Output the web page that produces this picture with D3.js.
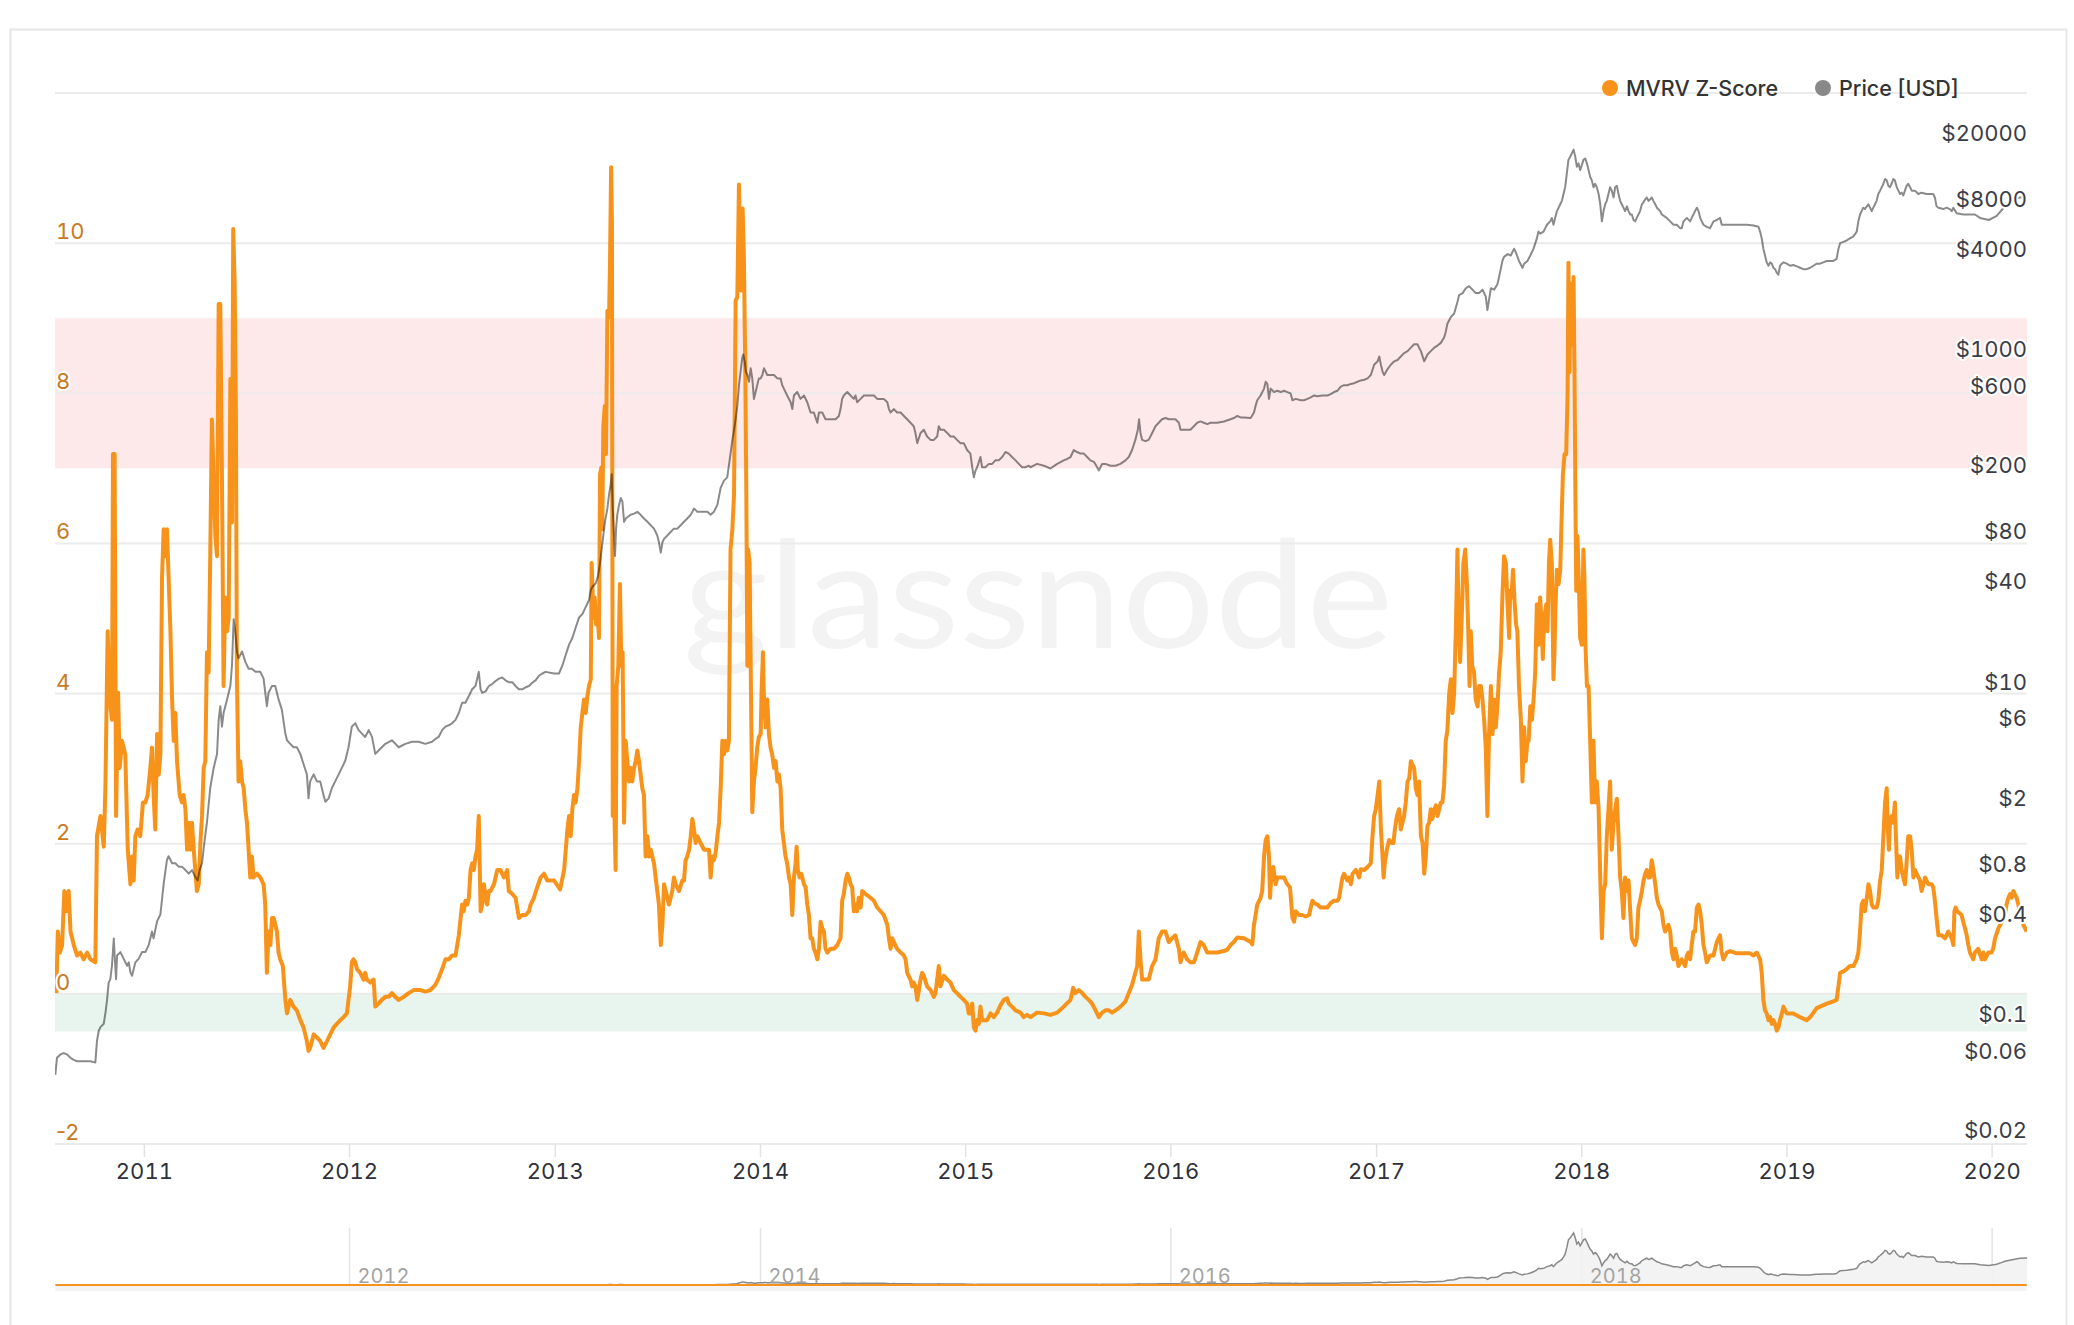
<!DOCTYPE html>
<html><head><meta charset="utf-8">
<script src="https://cdnjs.cloudflare.com/ajax/libs/d3/7.8.5/d3.min.js"></script>
<style>
html,body{margin:0;padding:0;background:#fff;}
svg{display:block;font-family:Inter,"Noto Sans",sans-serif;}
.num{font-feature-settings:"tnum" 1;font-variant-numeric:tabular-nums;}
</style>
</head><body>
<svg id="chart" width="2074" height="1325"></svg>
<script>
// ---------------- DATA (decimal years) ----------------
const zDates = [
2010.571,2010.578,2010.588,2010.599,2010.610,2010.620,2010.631,2010.640,2010.656,2010.672,2010.688,2010.704,2010.721,2010.737,2010.761,2010.769,2010.786,2010.802,2010.810,2010.821,2010.831,2010.842,2010.847,2010.855,2010.862,2010.872,2010.880,2010.891,2010.907,2010.919,2010.932,2010.940,2010.948,2010.956,2010.967,2010.980,2010.993,
2011.005,2011.016,2011.029,2011.037,2011.045,2011.053,2011.062,2011.070,2011.078,2011.086,2011.094,2011.102,2011.110,2011.118,2011.127,2011.135,2011.143,2011.151,2011.159,2011.172,2011.183,2011.191,2011.200,2011.208,2011.216,2011.224,2011.232,2011.243,2011.256,2011.265,2011.273,2011.281,2011.289,2011.297,2011.305,2011.313,2011.321,2011.329,2011.338,2011.346,2011.354,2011.362,2011.370,2011.378,2011.386,2011.394,2011.403,2011.411,2011.419,2011.427,2011.433,2011.440,2011.446,2011.451,2011.459,2011.467,2011.476,2011.484,2011.492,2011.500,2011.508,2011.516,2011.524,2011.532,2011.549,2011.565,2011.581,2011.589,2011.597,2011.605,2011.614,2011.622,2011.630,2011.638,2011.646,2011.654,2011.662,2011.675,2011.687,2011.695,2011.711,2011.727,2011.743,2011.760,2011.776,2011.792,2011.800,2011.808,2011.825,2011.841,2011.857,2011.873,2011.890,2011.906,2011.922,2011.938,2011.955,2011.971,2011.987,
2012.003,2012.011,2012.019,2012.028,2012.036,2012.052,2012.068,2012.076,2012.084,2012.101,2012.117,2012.125,2012.141,2012.157,2012.174,2012.190,2012.206,2012.222,2012.239,2012.263,2012.287,2012.312,2012.344,2012.368,2012.393,2012.417,2012.433,2012.450,2012.466,2012.482,2012.498,2012.515,2012.531,2012.547,2012.555,2012.563,2012.572,2012.580,2012.588,2012.596,2012.604,2012.612,2012.620,2012.628,2012.637,2012.645,2012.653,2012.661,2012.669,2012.677,2012.685,2012.702,2012.718,2012.734,2012.750,2012.766,2012.774,2012.791,2012.807,2012.823,2012.839,2012.856,2012.872,2012.880,2012.896,2012.912,2012.929,2012.945,2012.961,2012.994,
2013.023,2013.043,2013.059,2013.067,2013.075,2013.083,2013.091,2013.099,2013.108,2013.116,2013.124,2013.132,2013.140,2013.148,2013.156,2013.164,2013.173,2013.177,2013.186,2013.192,2013.199,2013.205,2013.213,2013.218,2013.224,2013.229,2013.234,2013.241,2013.247,2013.254,2013.262,2013.267,2013.272,2013.276,2013.280,2013.285,2013.289,2013.294,2013.299,2013.307,2013.315,2013.322,2013.328,2013.335,2013.343,2013.351,2013.359,2013.367,2013.375,2013.384,2013.392,2013.400,2013.408,2013.416,2013.424,2013.432,2013.440,2013.449,2013.457,2013.465,2013.481,2013.489,2013.497,2013.505,2013.514,2013.522,2013.530,2013.538,2013.546,2013.554,2013.562,2013.570,2013.578,2013.587,2013.603,2013.619,2013.627,2013.635,2013.643,2013.652,2013.660,2013.668,2013.676,2013.684,2013.692,2013.708,2013.725,2013.741,2013.749,2013.757,2013.765,2013.773,2013.781,2013.790,2013.798,2013.806,2013.814,2013.822,2013.830,2013.838,2013.846,2013.854,2013.863,2013.871,2013.879,2013.887,2013.895,2013.900,2013.906,2013.913,2013.919,2013.926,2013.931,2013.936,2013.940,2013.947,2013.952,2013.960,2013.968,2013.976,2013.984,2013.992,
2014.001,2014.005,2014.012,2014.017,2014.025,2014.033,2014.041,2014.049,2014.057,2014.066,2014.074,2014.082,2014.090,2014.098,2014.106,2014.114,2014.122,2014.130,2014.139,2014.147,2014.155,2014.163,2014.171,2014.176,2014.182,2014.191,2014.199,2014.212,2014.220,2014.228,2014.236,2014.244,2014.252,2014.260,2014.268,2014.277,2014.285,2014.293,2014.301,2014.309,2014.317,2014.325,2014.341,2014.358,2014.374,2014.390,2014.398,2014.406,2014.415,2014.423,2014.431,2014.439,2014.447,2014.455,2014.463,2014.471,2014.479,2014.488,2014.496,2014.512,2014.536,2014.553,2014.569,2014.585,2014.601,2014.618,2014.626,2014.634,2014.642,2014.650,2014.666,2014.683,2014.699,2014.707,2014.715,2014.731,2014.739,2014.747,2014.755,2014.764,2014.772,2014.780,2014.788,2014.796,2014.812,2014.829,2014.845,2014.853,2014.861,2014.869,2014.877,2014.894,2014.910,2014.926,2014.942,2014.958,2014.975,2014.991,
2015.007,2015.015,2015.023,2015.032,2015.040,2015.048,2015.056,2015.064,2015.072,2015.080,2015.105,2015.121,2015.137,2015.153,2015.170,2015.186,2015.202,2015.210,2015.226,2015.243,2015.267,2015.283,2015.299,2015.316,2015.348,2015.381,2015.413,2015.446,2015.478,2015.511,2015.524,2015.535,2015.551,2015.568,2015.584,2015.600,2015.616,2015.633,2015.649,2015.665,2015.681,2015.698,2015.714,2015.730,2015.746,2015.762,2015.779,2015.795,2015.811,2015.827,2015.836,2015.844,2015.852,2015.860,2015.876,2015.892,2015.909,2015.925,2015.941,2015.957,2015.974,2015.990,
2016.006,2016.022,2016.030,2016.039,2016.047,2016.055,2016.063,2016.079,2016.095,2016.112,2016.128,2016.144,2016.160,2016.177,2016.193,2016.225,2016.258,2016.274,2016.290,2016.306,2016.323,2016.355,2016.388,2016.396,2016.404,2016.412,2016.420,2016.436,2016.444,2016.453,2016.461,2016.469,2016.477,2016.482,2016.488,2016.498,2016.509,2016.517,2016.534,2016.550,2016.566,2016.579,2016.591,2016.599,2016.607,2016.623,2016.639,2016.655,2016.672,2016.680,2016.688,2016.696,2016.712,2016.728,2016.761,2016.777,2016.793,2016.810,2016.818,2016.826,2016.834,2016.842,2016.850,2016.858,2016.867,2016.875,2016.883,2016.899,2016.915,2016.923,2016.940,2016.956,2016.972,2016.980,2016.988,2016.996,
2017.005,2017.013,2017.021,2017.029,2017.034,2017.040,2017.050,2017.061,2017.073,2017.082,2017.089,2017.099,2017.110,2017.118,2017.126,2017.134,2017.142,2017.151,2017.159,2017.167,2017.175,2017.183,2017.191,2017.199,2017.207,2017.216,2017.224,2017.232,2017.240,2017.248,2017.256,2017.264,2017.272,2017.281,2017.289,2017.297,2017.305,2017.313,2017.321,2017.329,2017.337,2017.345,2017.354,2017.362,2017.370,2017.378,2017.386,2017.394,2017.401,2017.407,2017.415,2017.423,2017.432,2017.440,2017.446,2017.453,2017.459,2017.466,2017.475,2017.483,2017.492,2017.500,2017.508,2017.516,2017.524,2017.532,2017.540,2017.548,2017.557,2017.565,2017.573,2017.581,2017.589,2017.597,2017.605,2017.613,2017.621,2017.630,2017.638,2017.646,2017.651,2017.657,2017.665,2017.673,2017.680,2017.686,2017.694,2017.703,2017.711,2017.719,2017.727,2017.735,2017.741,2017.749,2017.757,2017.765,2017.773,2017.781,2017.789,2017.797,2017.806,2017.810,2017.817,2017.827,2017.833,2017.840,2017.846,2017.854,2017.862,2017.867,2017.872,2017.879,2017.887,2017.895,2017.903,2017.908,2017.916,2017.924,2017.931,2017.935,2017.940,2017.947,2017.953,2017.960,2017.965,2017.970,2017.973,2017.979,2017.986,2017.992,
2018.000,2018.008,2018.013,2018.018,2018.025,2018.033,2018.041,2018.049,2018.057,2018.065,2018.073,2018.082,2018.090,2018.098,2018.106,2018.114,2018.122,2018.130,2018.138,2018.146,2018.155,2018.163,2018.171,2018.179,2018.187,2018.195,2018.203,2018.211,2018.220,2018.228,2018.236,2018.244,2018.252,2018.260,2018.268,2018.276,2018.284,2018.293,2018.301,2018.309,2018.317,2018.325,2018.333,2018.341,2018.349,2018.358,2018.366,2018.374,2018.390,2018.398,2018.406,2018.422,2018.431,2018.439,2018.447,2018.455,2018.463,2018.471,2018.487,2018.504,2018.512,2018.520,2018.528,2018.536,2018.544,2018.552,2018.561,2018.569,2018.577,2018.585,2018.593,2018.601,2018.609,2018.625,2018.642,2018.650,2018.658,2018.674,2018.682,2018.690,2018.707,2018.723,2018.755,2018.788,2018.820,2018.837,2018.853,2018.869,2018.877,2018.885,2018.893,2018.901,2018.910,2018.918,2018.926,2018.934,2018.942,2018.950,2018.958,2018.966,2018.975,2018.983,2018.991,2018.999,
2019.031,2019.064,2019.096,2019.113,2019.129,2019.145,2019.161,2019.194,2019.226,2019.242,2019.251,2019.259,2019.275,2019.291,2019.307,2019.324,2019.340,2019.348,2019.356,2019.364,2019.372,2019.380,2019.389,2019.397,2019.405,2019.413,2019.421,2019.437,2019.445,2019.454,2019.462,2019.470,2019.478,2019.486,2019.491,2019.497,2019.502,2019.510,2019.518,2019.526,2019.531,2019.538,2019.544,2019.551,2019.559,2019.567,2019.575,2019.583,2019.591,2019.600,2019.608,2019.616,2019.624,2019.632,2019.648,2019.656,2019.665,2019.673,2019.689,2019.705,2019.713,2019.721,2019.729,2019.738,2019.754,2019.770,2019.786,2019.803,2019.811,2019.816,2019.822,2019.830,2019.851,2019.859,2019.868,2019.876,2019.884,2019.892,2019.908,2019.916,2019.932,2019.949,2019.957,2019.965,2019.981,2019.997,
2020.005,2020.014,2020.030,2020.046,2020.062,2020.070,2020.079,2020.087,2020.095,2020.103,2020.119,2020.135,2020.143,2020.152,2020.168
];
const zValues = [
0.01,0.83,0.55,0.65,1.37,1.10,1.37,0.83,0.65,0.51,0.55,0.46,0.55,0.46,0.42,2.10,2.37,1.96,2.74,4.83,3.92,3.65,7.19,7.19,2.37,4.01,3.01,3.37,3.19,1.92,1.46,1.83,1.51,2.10,2.19,2.10,2.55,
2.55,2.65,3.01,3.28,2.65,2.19,3.46,2.92,3.19,5.55,6.19,5.83,6.19,5.55,4.83,3.92,3.37,3.74,3.10,2.65,2.55,2.65,2.46,1.92,2.28,1.92,2.28,1.83,1.37,1.46,2.01,2.37,3.01,3.10,4.55,4.28,5.83,7.65,6.83,6.10,5.83,9.19,9.19,6.92,4.10,5.28,4.83,5.01,8.19,6.28,10.19,9.46,7.74,4.19,2.83,3.10,2.83,2.74,2.46,2.28,1.92,1.55,1.83,1.55,1.60,1.55,1.46,1.19,0.28,0.83,0.65,1.01,1.01,0.92,0.83,0.55,0.46,0.37,-0.08,-0.26,-0.08,-0.17,-0.22,-0.35,-0.45,-0.63,-0.76,-0.72,-0.54,-0.58,-0.63,-0.72,-0.63,-0.54,-0.45,-0.40,-0.35,-0.31,-0.26,
0.10,0.42,0.46,0.42,0.33,0.28,0.19,0.28,0.19,0.15,0.19,-0.17,-0.13,-0.08,-0.04,-0.04,0.01,-0.04,-0.08,-0.04,0.01,0.05,0.05,0.03,0.05,0.12,0.21,0.33,0.46,0.46,0.51,0.51,0.78,1.19,1.10,1.24,1.19,1.28,1.65,1.74,1.65,1.83,1.92,2.37,1.10,1.19,1.46,1.28,1.19,1.37,1.37,1.46,1.65,1.65,1.55,1.65,1.37,1.33,1.28,1.01,1.05,1.05,1.10,1.19,1.28,1.42,1.55,1.60,1.51,1.51,
1.39,1.65,2.19,2.37,2.10,2.46,2.65,2.55,2.74,3.10,3.55,3.74,3.92,3.74,3.96,4.10,4.19,5.74,5.01,5.28,4.92,5.10,4.74,6.92,7.01,6.19,7.55,7.83,7.19,9.10,9.01,9.83,11.01,10.28,2.37,4.10,2.28,1.65,4.10,4.37,5.46,4.37,4.55,2.28,3.37,3.10,2.83,3.01,2.83,3.01,3.10,3.24,3.10,2.92,2.74,2.65,1.83,2.10,1.83,1.92,1.74,1.55,1.37,1.19,0.65,0.92,1.46,1.37,1.28,1.19,1.28,1.37,1.55,1.46,1.37,1.51,1.51,1.78,1.83,1.92,2.10,2.33,2.19,2.01,2.10,2.01,1.92,1.92,1.92,1.55,1.83,1.78,1.87,2.10,2.28,2.74,3.37,3.19,3.37,3.24,3.37,5.92,6.19,6.65,9.24,9.28,10.78,10.10,9.37,10.46,9.83,8.28,6.65,4.37,5.92,5.74,4.46,2.42,2.83,3.01,3.28,3.42,
3.46,4.01,4.55,3.92,3.55,3.92,3.46,3.28,3.19,3.01,3.10,2.83,2.92,2.74,2.19,2.01,1.83,1.74,1.55,1.46,1.05,1.55,1.74,1.96,1.65,1.55,1.60,1.46,1.42,1.19,1.05,0.74,0.74,0.60,0.55,0.46,0.60,0.96,0.87,0.83,0.60,0.55,0.60,0.60,0.65,0.74,1.24,1.33,1.51,1.60,1.55,1.46,1.42,1.10,1.19,1.10,1.28,1.15,1.37,1.33,1.28,1.24,1.15,1.10,1.05,0.92,0.74,0.60,0.74,0.69,0.60,0.55,0.51,0.46,0.28,0.19,0.10,0.15,0.10,-0.08,0.05,0.19,0.28,0.24,0.10,0.05,-0.04,0.01,0.19,0.37,0.10,0.24,0.19,0.15,0.05,0.01,-0.04,-0.08,
-0.13,-0.26,-0.26,-0.13,-0.45,-0.49,-0.35,-0.40,-0.17,-0.35,-0.35,-0.26,-0.31,-0.25,-0.15,-0.08,-0.06,-0.13,-0.17,-0.22,-0.25,-0.31,-0.28,-0.31,-0.25,-0.26,-0.28,-0.25,-0.17,-0.08,0.08,0.01,0.05,0.01,-0.04,-0.08,-0.13,-0.22,-0.31,-0.25,-0.22,-0.22,-0.25,-0.22,-0.19,-0.15,-0.10,0.01,0.12,0.28,0.37,0.83,0.46,0.19,0.19,0.19,0.37,0.46,0.74,0.83,0.83,0.69,
0.74,0.78,0.69,0.60,0.42,0.51,0.55,0.46,0.42,0.42,0.55,0.69,0.65,0.55,0.55,0.55,0.57,0.59,0.65,0.69,0.75,0.74,0.69,0.66,0.92,1.05,1.19,1.28,1.37,1.83,2.05,2.10,1.83,1.28,1.55,1.69,1.46,1.55,1.55,1.55,1.46,1.42,1.01,0.96,1.10,1.05,1.05,1.03,1.05,1.15,1.24,1.21,1.19,1.15,1.15,1.21,1.24,1.24,1.28,1.42,1.55,1.60,1.55,1.51,1.55,1.46,1.60,1.65,1.55,1.66,1.65,1.69,1.74,2.10,2.37,2.46,
2.65,2.83,2.19,1.83,1.55,1.74,1.92,2.05,2.01,2.01,2.19,2.37,2.46,2.19,2.28,2.37,2.55,2.83,2.87,3.10,3.05,3.01,2.74,2.65,2.83,2.10,2.01,1.60,1.83,2.24,2.28,2.46,2.33,2.46,2.51,2.37,2.46,2.55,2.55,2.78,3.37,3.51,4.01,4.19,3.74,4.01,4.83,5.92,4.83,4.42,5.01,5.74,5.92,5.46,4.92,4.10,4.83,4.37,4.28,3.92,3.83,4.10,4.10,3.92,3.65,3.28,2.37,3.46,4.10,3.46,3.92,3.55,3.83,4.28,4.55,5.28,5.83,5.74,5.19,4.74,5.37,5.28,5.65,5.19,4.92,4.83,4.10,3.65,2.83,3.55,3.10,3.37,3.37,3.83,3.65,3.92,4.28,5.19,4.65,5.28,4.83,4.46,5.01,5.19,4.83,5.74,6.05,5.74,4.19,4.55,5.19,5.65,5.46,5.65,6.46,6.92,7.19,7.19,8.01,9.74,8.28,9.46,8.65,9.55,8.10,6.28,5.37,6.10,5.46,4.74,
4.65,5.92,5.55,4.65,4.10,4.10,3.37,2.55,3.37,2.55,2.83,2.46,1.55,0.74,1.37,1.46,2.10,2.46,2.83,1.92,2.28,2.46,2.60,2.10,1.55,1.37,1.01,1.55,1.37,1.51,1.10,0.74,0.69,0.65,0.74,1.15,1.24,1.37,1.51,1.60,1.65,1.55,1.55,1.78,1.65,1.46,1.28,1.19,1.10,0.92,0.83,0.92,0.83,0.55,0.46,0.60,0.51,0.37,0.46,0.37,0.51,0.55,0.46,0.65,0.83,0.83,1.15,1.19,1.10,0.92,0.65,0.55,0.42,0.51,0.51,0.60,0.69,0.78,0.55,0.46,0.55,0.57,0.54,0.54,0.54,0.51,0.55,0.46,0.28,-0.08,-0.22,-0.26,-0.35,-0.31,-0.40,-0.35,-0.40,-0.49,-0.45,-0.35,-0.26,-0.17,-0.22,-0.26,
-0.26,-0.31,-0.35,-0.31,-0.25,-0.19,-0.17,-0.13,-0.10,-0.08,0.10,0.28,0.30,0.33,0.37,0.37,0.46,0.55,0.83,1.19,1.24,1.10,1.28,1.46,1.37,1.19,1.15,1.15,1.24,1.51,1.65,2.10,2.55,2.74,2.24,1.92,2.28,2.37,2.28,2.55,2.10,1.55,1.83,1.83,1.65,1.55,1.46,1.74,2.10,2.10,1.92,1.55,1.65,1.60,1.51,1.37,1.46,1.55,1.46,1.46,1.42,1.24,1.01,0.78,0.78,0.74,0.83,0.74,0.65,1.10,1.15,1.10,1.05,0.96,0.87,0.78,0.65,0.55,0.46,0.55,0.60,0.46,0.55,0.46,0.55,0.55,
0.60,0.74,0.87,0.96,1.05,1.19,1.28,1.33,1.28,1.37,1.28,1.10,1.05,0.92,0.83
];

const priceDates = [
2010.566,2010.574,2010.591,2010.607,2010.623,2010.640,2010.656,2010.672,2010.704,2010.737,2010.761,2010.769,2010.778,2010.786,2010.802,2010.810,2010.818,2010.826,2010.834,2010.842,2010.851,2010.855,2010.862,2010.867,2010.883,2010.899,2010.916,2010.924,2010.932,2010.940,2010.948,2010.956,2010.972,2010.989,
2011.005,2011.021,2011.037,2011.045,2011.062,2011.078,2011.094,2011.110,2011.118,2011.135,2011.151,2011.167,2011.183,2011.200,2011.216,2011.232,2011.248,2011.260,2011.269,2011.281,2011.292,2011.305,2011.321,2011.338,2011.354,2011.362,2011.370,2011.378,2011.386,2011.403,2011.419,2011.427,2011.435,2011.443,2011.451,2011.459,2011.476,2011.492,2011.508,2011.524,2011.541,2011.565,2011.581,2011.597,2011.605,2011.622,2011.638,2011.654,2011.670,2011.687,2011.695,2011.711,2011.727,2011.743,2011.760,2011.776,2011.792,2011.800,2011.808,2011.825,2011.841,2011.857,2011.873,2011.882,2011.898,2011.914,2011.930,2011.947,2011.963,2011.979,2011.995,
2012.011,2012.028,2012.044,2012.060,2012.076,2012.093,2012.109,2012.125,2012.141,2012.157,2012.174,2012.206,2012.239,2012.271,2012.304,2012.336,2012.368,2012.401,2012.417,2012.433,2012.450,2012.466,2012.482,2012.498,2012.515,2012.531,2012.547,2012.563,2012.580,2012.596,2012.612,2012.628,2012.637,2012.645,2012.661,2012.677,2012.693,2012.710,2012.726,2012.742,2012.758,2012.774,2012.791,2012.807,2012.823,2012.839,2012.856,2012.872,2012.888,2012.904,2012.921,2012.937,2012.953,2012.994,
2013.018,2013.035,2013.051,2013.067,2013.083,2013.099,2013.116,2013.132,2013.148,2013.164,2013.173,2013.181,2013.197,2013.208,2013.218,2013.226,2013.234,2013.242,2013.254,2013.262,2013.270,2013.275,2013.280,2013.286,2013.291,2013.296,2013.302,2013.311,2013.319,2013.327,2013.335,2013.343,2013.367,2013.384,2013.400,2013.416,2013.432,2013.449,2013.465,2013.481,2013.497,2013.505,2013.514,2013.522,2013.530,2013.546,2013.562,2013.578,2013.595,2013.611,2013.627,2013.643,2013.660,2013.668,2013.676,2013.692,2013.708,2013.725,2013.741,2013.757,2013.773,2013.790,2013.806,2013.822,2013.838,2013.854,2013.863,2013.871,2013.879,2013.887,2013.895,2013.903,2013.911,2013.916,2013.923,2013.929,2013.936,2013.944,2013.952,2013.960,2013.968,2013.976,2013.984,2013.992,
2014.001,2014.009,2014.017,2014.025,2014.033,2014.049,2014.066,2014.082,2014.098,2014.106,2014.114,2014.130,2014.147,2014.155,2014.163,2014.179,2014.195,2014.212,2014.228,2014.244,2014.260,2014.277,2014.285,2014.301,2014.317,2014.333,2014.350,2014.366,2014.382,2014.390,2014.398,2014.406,2014.423,2014.439,2014.455,2014.463,2014.471,2014.488,2014.504,2014.520,2014.536,2014.553,2014.569,2014.585,2014.601,2014.618,2014.626,2014.634,2014.650,2014.666,2014.683,2014.699,2014.715,2014.731,2014.747,2014.755,2014.764,2014.780,2014.796,2014.812,2014.829,2014.845,2014.861,2014.869,2014.877,2014.894,2014.910,2014.926,2014.942,2014.958,2014.975,2014.991,
2015.007,2015.023,2015.032,2015.040,2015.048,2015.056,2015.072,2015.080,2015.096,2015.113,2015.129,2015.145,2015.161,2015.178,2015.194,2015.210,2015.226,2015.243,2015.259,2015.275,2015.291,2015.308,2015.316,2015.348,2015.381,2015.413,2015.446,2015.478,2015.495,2015.511,2015.527,2015.543,2015.560,2015.576,2015.592,2015.608,2015.625,2015.641,2015.649,2015.665,2015.681,2015.706,2015.730,2015.754,2015.779,2015.795,2015.811,2015.827,2015.839,2015.845,2015.852,2015.860,2015.876,2015.892,2015.909,2015.925,2015.941,2015.957,2015.974,2015.990,
2016.006,2016.022,2016.039,2016.047,2016.063,2016.079,2016.095,2016.112,2016.128,2016.144,2016.160,2016.177,2016.193,2016.225,2016.258,2016.290,2016.306,2016.323,2016.339,2016.355,2016.388,2016.404,2016.412,2016.420,2016.436,2016.453,2016.461,2016.469,2016.477,2016.485,2016.501,2016.517,2016.534,2016.550,2016.566,2016.582,2016.591,2016.607,2016.631,2016.647,2016.664,2016.680,2016.696,2016.712,2016.737,2016.761,2016.777,2016.793,2016.810,2016.826,2016.842,2016.858,2016.875,2016.891,2016.907,2016.923,2016.940,2016.956,2016.972,2016.988,
2017.005,2017.013,2017.021,2017.029,2017.037,2017.050,2017.069,2017.086,2017.102,2017.118,2017.134,2017.151,2017.167,2017.183,2017.199,2017.207,2017.216,2017.232,2017.240,2017.248,2017.264,2017.281,2017.297,2017.313,2017.329,2017.337,2017.345,2017.362,2017.378,2017.394,2017.402,2017.419,2017.435,2017.451,2017.467,2017.483,2017.500,2017.516,2017.532,2017.540,2017.548,2017.557,2017.573,2017.589,2017.605,2017.613,2017.621,2017.638,2017.654,2017.670,2017.678,2017.694,2017.711,2017.719,2017.735,2017.749,2017.765,2017.781,2017.789,2017.797,2017.814,2017.830,2017.846,2017.854,2017.862,2017.870,2017.879,2017.895,2017.903,2017.911,2017.919,2017.927,2017.935,2017.944,2017.952,2017.960,2017.968,2017.976,2017.984,2017.992,
2018.000,2018.008,2018.017,2018.025,2018.033,2018.041,2018.049,2018.057,2018.065,2018.073,2018.082,2018.090,2018.098,2018.106,2018.114,2018.122,2018.130,2018.138,2018.146,2018.155,2018.163,2018.171,2018.179,2018.187,2018.195,2018.203,2018.211,2018.220,2018.228,2018.236,2018.244,2018.252,2018.260,2018.268,2018.276,2018.284,2018.293,2018.301,2018.309,2018.317,2018.325,2018.333,2018.341,2018.349,2018.358,2018.366,2018.382,2018.390,2018.414,2018.431,2018.447,2018.463,2018.479,2018.487,2018.496,2018.512,2018.528,2018.536,2018.544,2018.552,2018.561,2018.569,2018.577,2018.585,2018.593,2018.609,2018.625,2018.642,2018.658,2018.674,2018.682,2018.707,2018.739,2018.772,2018.804,2018.837,2018.861,2018.869,2018.877,2018.885,2018.893,2018.901,2018.910,2018.918,2018.926,2018.934,2018.942,2018.950,2018.958,2018.966,2018.975,2018.983,2018.999,
2019.015,2019.031,2019.048,2019.064,2019.080,2019.096,2019.113,2019.129,2019.145,2019.161,2019.177,2019.194,2019.226,2019.242,2019.251,2019.259,2019.275,2019.291,2019.307,2019.324,2019.340,2019.348,2019.356,2019.364,2019.372,2019.380,2019.389,2019.397,2019.405,2019.413,2019.421,2019.429,2019.437,2019.445,2019.454,2019.462,2019.470,2019.478,2019.486,2019.494,2019.502,2019.510,2019.518,2019.526,2019.535,2019.543,2019.551,2019.559,2019.567,2019.575,2019.583,2019.591,2019.600,2019.608,2019.624,2019.640,2019.656,2019.681,2019.713,2019.721,2019.729,2019.738,2019.762,2019.778,2019.794,2019.803,2019.811,2019.827,2019.859,2019.916,2019.941,2019.984,
2020.022,2020.048,2020.062,2020.103,2020.135,2020.170
];
const priceValues = [
0.0507,0.0642,0.0673,0.0686,0.0673,0.0642,0.0624,0.0612,0.0612,0.0612,0.0601,0.0813,0.0937,0.0983,0.103,0.119,0.143,0.182,0.191,0.230,0.336,0.265,0.191,0.265,0.278,0.253,0.230,0.241,0.210,0.200,0.220,0.241,0.253,0.278,
0.278,0.306,0.369,0.336,0.426,0.468,0.716,0.998,1.05,0.952,0.952,0.908,0.908,0.866,0.826,0.866,0.788,0.751,0.866,0.952,1.26,1.68,2.70,3.58,4.33,6.94,8.39,6.32,7.63,9.22,11.1,14.8,28.0,23.8,17.9,16.3,17.9,15.5,14.1,14.1,13.5,13.5,12.3,8.39,10.1,11.1,11.1,9.22,8.00,5.74,5.23,4.98,4.75,4.75,4.33,3.75,3.26,2.34,2.96,3.26,2.96,2.96,2.45,2.23,2.34,2.70,2.96,3.26,3.58,3.94,4.75,
6.32,6.62,6.02,5.74,5.48,6.02,5.48,4.33,4.54,4.75,4.98,5.23,4.75,4.98,5.13,5.13,4.98,5.13,5.33,5.48,6.02,6.32,6.44,6.62,6.94,7.63,8.80,8.80,9.67,10.6,11.1,13.5,10.6,10.1,10.3,11.1,11.4,11.9,12.3,12.5,12.0,11.7,11.7,11.1,10.6,10.6,10.9,11.1,11.6,12.0,12.8,13.2,13.5,13.2,
13.2,14.8,17.1,19.7,21.6,24.9,28.7,30.1,33.1,36.4,41.9,43.9,46.1,50.7,61.2,74.0,89.4,108,130,158,182,209,130,89.4,67.3,98.2,119,137,150,143,108,113,119,121,124,119,113,108,103,98.2,89.4,81.3,70.5,81.3,85.2,89.4,93.7,98.2,98.2,103,108,113,119,124,130,124,124,124,124,119,124,137,173,191,200,278,336,387,447,540,717,866,1046,1097,998,866,826,752,908,788,593,652,717,788,
788,826,908,866,826,826,826,788,788,717,684,622,566,515,622,652,593,622,566,491,491,426,491,491,447,447,447,447,468,515,593,622,652,622,593,622,566,593,622,622,622,622,593,593,593,566,515,491,515,491,491,468,447,426,406,370,321,370,387,352,336,336,352,406,387,387,370,352,352,336,321,321,
292,278,230,200,220,230,265,230,230,241,241,253,253,265,284,278,265,253,241,230,230,235,230,241,235,226,241,253,258,265,292,284,278,278,265,253,248,230,220,241,241,235,235,241,253,265,292,336,387,447,370,336,330,336,370,406,426,447,455,447,
447,447,426,387,387,387,387,406,426,434,426,418,426,426,434,447,455,468,459,459,455,491,540,582,622,684,752,730,593,684,652,664,652,664,652,640,582,593,582,582,593,605,622,616,622,622,634,652,664,703,717,717,730,737,752,766,773,788,826,952,
998,1067,952,866,826,883,952,998,1017,1067,1118,1150,1206,1265,1265,1206,1150,998,1046,1097,1150,1206,1241,1289,1390,1500,1680,1846,1936,2273,2498,2570,2747,2826,2696,2570,2570,2696,2452,2029,2339,2747,2696,2907,3580,4011,4246,4410,4326,4755,4536,4011,3650,3862,4011,4326,4755,5480,6025,5856,6025,6622,6944,7281,6622,7281,8003,8799,9223,10139,11146,13466,16275,17060,17885,18759,17060,14804,15518,14117,
15085,16275,16585,15518,14117,12844,12251,11146,11683,11146,10139,8799,6944,8003,8799,9223,10139,11146,10628,9670,11146,11358,10139,9223,8799,8390,8003,8551,8003,7633,7633,7075,6944,7281,7633,8003,8799,9050,9400,9670,9223,9400,9670,9223,8799,8390,8003,7633,7281,6944,6622,6622,6316,6316,6944,7281,6944,7281,7633,8003,8390,8003,7281,6944,6622,6437,6316,6944,7075,7281,6622,6622,6622,6622,6622,6560,6437,6025,5480,4755,4326,3936,3753,3936,3862,3650,3580,3415,3319,3753,3862,3936,3862,
3753,3790,3719,3650,3580,3580,3650,3753,3862,3862,3936,4011,4011,4127,4755,5130,5228,5328,5480,5640,6025,6944,7633,8003,8390,8233,8551,8799,8390,8003,8390,8799,9223,10139,10628,11146,11683,12486,12251,11358,11146,11683,12486,12251,11146,10628,10139,10332,9948,10628,11358,11683,11146,10628,10628,10139,10332,10139,10139,9670,8551,8390,8233,8390,8233,8003,8390,7779,7633,7633,7281,7075,
7490,8155,8551,9223,9670,9761
];

// axis ticks / labels
const zTickValues = [-2, 0, 2, 4, 6, 8, 10, 12];
const zTickLabels = ["-2", "0", "2", "4", "6", "8", "10"];
const priceTickValues = [20000, 8000, 4000, 1000, 600, 200, 80, 40, 10, 6, 2, 0.8, 0.4, 0.1, 0.06, 0.02];
const yearTicks = [2011, 2012, 2013, 2014, 2015, 2016, 2017, 2018, 2019, 2020];
const navYearTicks = [2012, 2014, 2016, 2018, 2020];
const navYearLabels = ["2012", "2014", "2016", "2018"];
const zoneBands = [{from: 7, to: 9}, {from: -0.5, to: 0}];
const seriesNames = ["MVRV Z-Score", "Price [USD]"];

// ---------------- RENDER ----------------
const toDate = y => { const yr = Math.floor(y); const a = Date.UTC(yr,0,1), b = Date.UTC(yr+1,0,1); return new Date(a + (y-yr)*(b-a)); };
const zData = zDates.map((d,i)=>({date: toDate(d), v: zValues[i]}));
const pData = priceDates.map((d,i)=>({date: toDate(d), v: priceValues[i]}));

const P = {left:55, right:2027, top:93, bottom:1144};
const svg = d3.select('#chart');
const ORANGE = '#f7931a';
const bandColors = ['#fde8ea', '#e8f5ee'];

const x = d3.scaleUtc().domain([new Date(Date.UTC(2010,6,26)), new Date(Date.UTC(2020,2,3))]).range([P.left, P.right]);
const yZ = d3.scaleLinear().domain([-2, 12]).range([P.bottom, P.top]);
const yP = d3.scaleLog().domain([0.02, 20000]).range([1142, 145]);

// card border
svg.append('rect').attr('x',10.5).attr('y',29.5).attr('width',2056).attr('height',1400)
  .attr('fill','none').attr('stroke','#e6e6e6').attr('stroke-width',2);

svg.append('defs').append('clipPath').attr('id','plotclip').append('rect')
  .attr('x',P.left).attr('y',P.top-10).attr('width',P.right-P.left).attr('height',P.bottom-P.top+10);

// bands
svg.selectAll('rect.band').data(zoneBands).join('rect').attr('class','band')
  .attr('x',P.left).attr('width',P.right-P.left)
  .attr('y',d=>yZ(d.to)).attr('height',d=>yZ(d.from)-yZ(d.to))
  .attr('fill',(d,i)=>bandColors[i]);

// watermark
svg.append('text').attr('x',1038).attr('y',648).attr('text-anchor','middle')
  .attr('font-family','Lato, "Open Sans", sans-serif').attr('font-size',150)
  .attr('textLength',710).attr('lengthAdjust','spacingAndGlyphs')
  .attr('fill','#f3f3f3').text('glassnode');

// gridlines
svg.selectAll('line.grid').data(zTickValues).join('line').attr('class','grid')
  .attr('x1',P.left).attr('x2',P.right).attr('y1',d=>yZ(d)).attr('y2',d=>yZ(d))
  .attr('stroke','#ebebeb').attr('stroke-width',2);

// x ticks
svg.selectAll('line.xtick').data(yearTicks).join('line').attr('class','xtick')
  .attr('x1',d=>x(toDate(d))).attr('x2',d=>x(toDate(d))).attr('y1',P.bottom).attr('y2',P.bottom+13)
  .attr('stroke','#e3e3e3').attr('stroke-width',1.5);
svg.selectAll('text.xlab').data(yearTicks).join('text').attr('class','xlab num')
  .attr('x',d=>x(toDate(d))).attr('y',1179).attr('text-anchor','middle')
  .attr('font-size',22).attr('fill','#2e3039').text(d=>d);

// series
const g = svg.append('g').attr('clip-path','url(#plotclip)');
g.append('path').datum(zData)
  .attr('d', d3.line().x(d=>x(d.date)).y(d=>yZ(d.v)))
  .attr('fill','none').attr('stroke',ORANGE).attr('stroke-width',4).attr('stroke-linejoin','round');
g.append('path').datum(pData)
  .attr('d', d3.line().x(d=>x(d.date)).y(d=>yP(d.v)))
  .attr('fill','none').attr('stroke','#000').attr('stroke-opacity',0.46).attr('stroke-width',2).attr('stroke-linejoin','round');

// left axis labels
svg.selectAll('text.zlab').data(zTickLabels).join('text')
  .attr('class',d=>d.startsWith('-') ? 'zlab' : 'zlab num')
  .attr('x',56).attr('y',d=>yZ(+d)-4)
  .attr('font-size',22).attr('fill','#c87a22')
  .attr('stroke','#fff').attr('stroke-width',4).attr('paint-order','stroke').attr('stroke-linejoin','round')
  .text(d=>d);

// right axis labels
const fmtPrice = v => '$' + (v >= 1 ? d3.format('d')(v) : String(v));
svg.selectAll('text.plab').data(priceTickValues).join('text').attr('class','plab num')
  .attr('x',P.right).attr('y',d=>yP(d)-4).attr('text-anchor','end')
  .attr('font-size',22).attr('fill','#3a3d48')
  .attr('stroke','#fff').attr('stroke-width',4).attr('paint-order','stroke').attr('stroke-linejoin','round')
  .text(fmtPrice);

// legend
const legend = svg.append('g');
const legendItems = [{name:seriesNames[0], color:ORANGE, cx:1610, tx:1626},{name:seriesNames[1], color:'#888888', cx:1823, tx:1839}];
legendItems.forEach(it=>{
  legend.append('circle').attr('cx',it.cx).attr('cy',88).attr('r',8).attr('fill',it.color);
  legend.append('text').attr('x',it.tx).attr('y',96).attr('font-size',21.5).attr('font-weight',500)
    .attr('fill','#333').text(it.name);
});

// navigator
const NAV = {top:1228, bottom:1291, base:1285};
const yN = d3.scaleLinear().domain([0, d3.max(priceValues)]).range([NAV.base, 1233]);
svg.selectAll('line.navgrid').data(navYearTicks).join('line').attr('class','navgrid')
  .attr('x1',d=>x(toDate(d))).attr('x2',d=>x(toDate(d))).attr('y1',NAV.top).attr('y2',NAV.bottom)
  .attr('stroke','#e4e4e4').attr('stroke-width',1.5);
svg.append('path').datum(pData)
  .attr('d', d3.area().x(d=>x(d.date)).y0(NAV.bottom).y1(d=>yN(d.v)))
  .attr('fill','#f2f2f2').attr('fill-opacity',0.9);
svg.append('path').datum(pData)
  .attr('d', d3.line().x(d=>x(d.date)).y(d=>yN(d.v)))
  .attr('fill','none').attr('stroke','#888').attr('stroke-width',1.5);
svg.append('path').datum(zData)
  .attr('d', d3.line().x(d=>x(d.date)).y(d=>yN(d.v)))
  .attr('fill','none').attr('stroke',ORANGE).attr('stroke-width',2);
svg.selectAll('text.navlab').data(navYearLabels).join('text').attr('class','navlab num')
  .attr('x',d=>x(toDate(+d))+8).attr('y',1283)
  .attr('font-size',20).attr('fill','#a3a3a3').text(d=>d);
</script>
</body></html>
